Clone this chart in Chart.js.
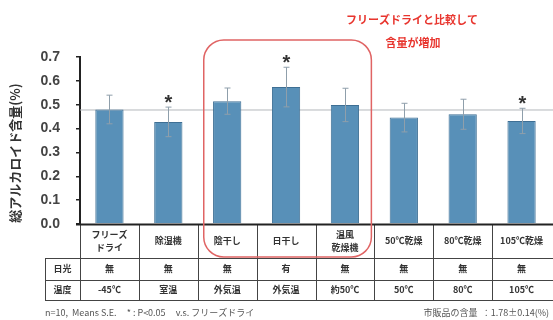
<!DOCTYPE html>
<html lang="ja">
<head>
<meta charset="utf-8">
<script src="https://cdn.jsdelivr.net/npm/chart.js@4.4.1/dist/chart.umd.min.js"></script>
<style>
    html, body { margin: 0; padding: 0; background: #fff; }
    #wrap { width: 553px; height: 320px; position: relative; }
</style>
</head>
<body>
<div id="wrap"><canvas id="alkaloid-chart"></canvas></div>
<script>
(function() {
    'use strict';

    // 乾燥方法ごとの総アルカロイド含量
    const methods = ['フリーズドライ', '除湿機', '陰干し', '日干し', '温風乾燥機', '50℃乾燥', '80℃乾燥', '105℃乾燥'];
    const methodLines = [['フリーズ', 'ドライ'], ['除湿機'], ['陰干し'], ['日干し'], ['温風', '乾燥機'], ['50℃乾燥'], ['80℃乾燥'], ['105℃乾燥']];
    const means = [0.48, 0.428, 0.515, 0.574, 0.499, 0.446, 0.460, 0.432];
    const errors = [0.060, 0.062, 0.055, 0.083, 0.070, 0.060, 0.063, 0.053];
    const significant = [false, true, false, true, false, false, false, true];
    const sunlight = ['無', '無', '無', '有', '無', '無', '無', '無'];
    const temperature = ['-45℃', '室温', '外気温', '外気温', '約50℃', '50℃', '80℃', '105℃'];
    const yTicks = [0.0, 0.1, 0.2, 0.3, 0.4, 0.5, 0.6, 0.7];
    const highlighted = [2, 4]; // 陰干し〜温風乾燥機

    const jpFont = '"Noto Sans CJK JP", "Noto Sans", sans-serif';
    const numFont = '"Liberation Sans", Arial, sans-serif';

    /**
     * 列の境界（x座標）
     */
    function columnEdge(x, i) {
        const step = x.getPixelForValue(1) - x.getPixelForValue(0);
        return x.getPixelForValue(i) - step / 2;
    }

    /**
     * 基準線（フリーズドライの値）
     */
    const baselinePlugin = {
        id: 'baseline',
        beforeDatasetsDraw(chart) {
            const { ctx, chartArea, scales } = chart;
            const y = scales.y.getPixelForValue(means[0]);
            ctx.save();
            ctx.strokeStyle = '#b4b8bc';
            ctx.lineWidth = 1;
            ctx.beginPath();
            ctx.moveTo(chartArea.left, y + 0.5);
            ctx.lineTo(chartArea.right + 2, y + 0.5);
            ctx.stroke();
            ctx.restore();
        }
    };

    /**
     * エラーバーと有意差マーク
     */
    const errorBarPlugin = {
        id: 'errorBars',
        afterDatasetsDraw(chart) {
            const { ctx, scales } = chart;
            const meta = chart.getDatasetMeta(0);
            ctx.save();
            meta.data.forEach((bar, i) => {
                const x = Math.round(bar.x) + 0.5;
                const top = scales.y.getPixelForValue(means[i] + errors[i]);
                const low = scales.y.getPixelForValue(means[i] - errors[i]);
                ctx.strokeStyle = '#8f9fab';
                ctx.lineWidth = 1;
                ctx.beginPath();
                ctx.moveTo(x, top);
                ctx.lineTo(x, low);
                ctx.moveTo(x - 3, top);
                ctx.lineTo(x + 3, top);
                ctx.moveTo(x - 3, low);
                ctx.lineTo(x + 3, low);
                ctx.stroke();

                if (significant[i]) {
                    ctx.fillStyle = '#333';
                    ctx.font = 'bold 20px ' + numFont;
                    ctx.textAlign = 'center';
                    ctx.textBaseline = 'alphabetic';
                    ctx.fillText('*', x, top + 2);
                }
            });
            ctx.restore();
        }
    };

    /**
     * 下部の条件表・軸タイトル・注記
     */
    const tablePlugin = {
        id: 'conditionTable',
        afterDraw(chart) {
            const { ctx, chartArea, scales } = chart;
            const x = scales.x;
            const y0 = chartArea.bottom;
            const rows = [y0, y0 + 34, y0 + 56, y0 + 76];
            const labelLeft = 45;
            const right = chart.width;

            ctx.save();
            ctx.strokeStyle = '#444';
            ctx.lineWidth = 1;
            ctx.beginPath();
            // 横線
            ctx.moveTo(chartArea.left, rows[0] + 0.5);
            ctx.lineTo(right, rows[0] + 0.5);
            for (let r = 1; r < rows.length; r++) {
                ctx.moveTo(labelLeft, rows[r] + 0.5);
                ctx.lineTo(right, rows[r] + 0.5);
            }
            // 縦線
            for (let i = 0; i < methods.length; i++) {
                const cx = Math.round(columnEdge(x, i)) + 0.5;
                ctx.moveTo(cx, rows[0]);
                ctx.lineTo(cx, rows[3]);
            }
            ctx.moveTo(labelLeft + 0.5, rows[1]);
            ctx.lineTo(labelLeft + 0.5, rows[3]);
            ctx.stroke();

            // x軸（太め）
            ctx.lineWidth = 2;
            ctx.strokeStyle = '#222';
            ctx.beginPath();
            ctx.moveTo(chartArea.left - 4, y0 + 0.5);
            ctx.lineTo(right, y0 + 0.5);
            ctx.stroke();

            ctx.fillStyle = '#333';
            ctx.textAlign = 'center';
            ctx.textBaseline = 'middle';
            ctx.font = 'bold 9px ' + jpFont;
            methodLines.forEach((lines, i) => {
                const cx = x.getPixelForValue(i);
                const mid = (rows[0] + rows[1]) / 2;
                lines.forEach((t, k) => {
                    ctx.fillText(t, cx, mid + (k - (lines.length - 1) / 2) * 13);
                });
                ctx.fillText(sunlight[i], cx, (rows[1] + rows[2]) / 2);
                ctx.fillText(temperature[i], cx, (rows[2] + rows[3]) / 2);
            });
            const labelX = (labelLeft + chartArea.left) / 2;
            ctx.fillText('日光', labelX, (rows[1] + rows[2]) / 2);
            ctx.fillText('温度', labelX, (rows[2] + rows[3]) / 2);

            // 注記
            ctx.font = '9px ' + jpFont;
            ctx.fillStyle = '#555';
            ctx.textAlign = 'left';
            ctx.fillText('n=10,  Means S.E.     * : P<0.05     v.s. フリーズドライ', labelLeft, 313);
            ctx.textAlign = 'right';
            ctx.fillText('市販品の含量  ：1.78±0.14(%)', right - 4, 313);

            // 縦軸タイトル
            ctx.save();
            ctx.translate(15, 153);
            ctx.rotate(-Math.PI / 2);
            ctx.textAlign = 'center';
            ctx.font = 'bold 13px ' + jpFont;
            ctx.fillStyle = '#333';
            ctx.fillText('総アルカロイド含量(%)', 0, 0);
            ctx.restore();

            // 強調枠
            const boxL = columnEdge(x, highlighted[0]) + 6;
            const boxR = columnEdge(x, highlighted[1] + 1) - 3;
            const boxT = 40;
            const boxB = rows[1] - 1;
            ctx.strokeStyle = '#e06464';
            ctx.lineWidth = 1.5;
            ctx.beginPath();
            ctx.roundRect(boxL, boxT, boxR - boxL, boxB - boxT, 20);
            ctx.stroke();

            ctx.fillStyle = '#e8352e';
            ctx.textAlign = 'center';
            ctx.font = 'bold 11px ' + jpFont;
            ctx.fillText('フリーズドライと比較して', 412, 20);
            ctx.fillText('含量が増加', 413, 43);
            ctx.restore();
        }
    };

    function barFill(context) {
        const chart = context.chart;
        const bar = chart.getDatasetMeta(0).data[context.dataIndex];
        if (!bar || !isFinite(bar.x)) return '#5890b8';
        const half = 14;
        const g = chart.ctx.createLinearGradient(bar.x - half, 0, bar.x + half, 0);
        g.addColorStop(0, '#4f87b0');
        g.addColorStop(0.5, '#6aa2c6');
        g.addColorStop(1, '#4f87b0');
        return g;
    }

    document.addEventListener('DOMContentLoaded', () => {
        const canvas = document.getElementById('alkaloid-chart');
        new Chart(canvas, {
            type: 'bar',
            data: {
                labels: methods,
                datasets: [{
                    data: means,
                    backgroundColor: barFill,
                    borderColor: '#3e6f94',
                    borderWidth: 1,
                    categoryPercentage: 0.8,
                    barPercentage: 0.6
                }]
            },
            options: {
                responsive: true,
                maintainAspectRatio: false,
                animation: false,
                layout: { padding: { top: 57, right: 2, bottom: 96, left: 0 } },
                plugins: {
                    legend: { display: false },
                    tooltip: { enabled: false }
                },
                scales: {
                    x: { display: false },
                    y: {
                        min: 0,
                        max: 0.7,
                        afterFit(scale) { scale.width = 80; },
                        afterBuildTicks(scale) {
                            scale.ticks = yTicks.map(v => ({ value: v }));
                        },
                        ticks: {
                            color: '#444',
                            padding: 16,
                            font: { family: numFont, size: 14, weight: 'bold' },
                            callback: v => Number(v).toFixed(1)
                        },
                        grid: { drawOnChartArea: false, tickLength: 4, color: '#222', lineWidth: 1.5 },
                        border: { color: '#222', width: 2 }
                    }
                }
            },
            plugins: [baselinePlugin, errorBarPlugin, tablePlugin]
        });
    });
})();
</script>
</body>
</html>
